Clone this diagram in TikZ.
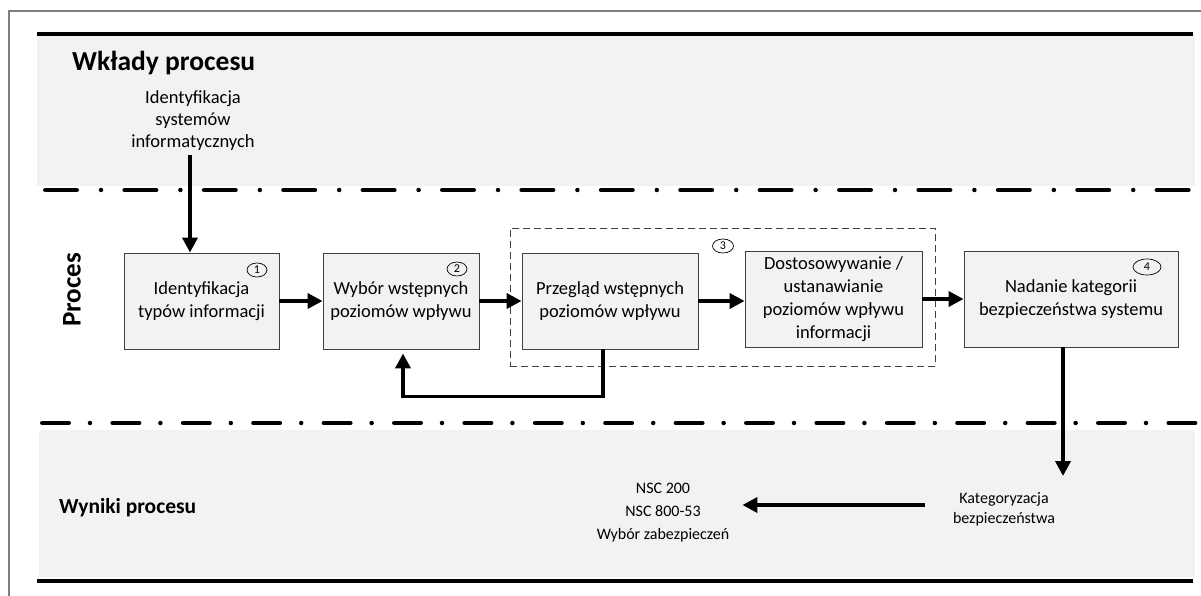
\documentclass[tikz,border=0pt]{standalone}
\usepackage{fontspec}
\setmainfont{Carlito}
\usetikzlibrary{arrows.meta,shapes.geometric}
\definecolor{bandgray}{HTML}{F2F2F2}
\definecolor{boxline}{HTML}{404040}
\definecolor{frame}{HTML}{7F7F7F}
\tikzset{
  stepbox/.style={draw=boxline, fill=bandgray, line width=0.9pt, align=center,
    inner sep=2pt, font=\fontsize{18.5}{23}\selectfont},
  numell/.style={ellipse, draw=black, line width=0.7pt, inner sep=0pt,
    font=\fontsize{12}{12}\selectfont},
  plaintext/.style={align=center, inner sep=0pt, font=\fontsize{18.5}{22}\selectfont},
  heading/.style={anchor=west, inner sep=0pt, font=\bfseries\fontsize{27.5}{30}\selectfont},
  arr/.style={line width=3.6pt, -{Triangle[length=15pt,width=15pt]}},
  solidsep/.style={line width=4.5pt},
  topdd/.style={line width=4.5pt, line cap=round, dash pattern=on 31.5pt off 24.25pt on 0pt off 23.65pt},
  botdd/.style={line width=4.5pt, line cap=round, dash pattern=on 26.5pt off 21.25pt on 0pt off 22.65pt},
}
\begin{document}
\begin{tikzpicture}[x=1pt,y=-1pt]
\useasboundingbox (0,0) rectangle (1201,596);
\clip (0,0) rectangle (1201,596);
% outer frame
\draw[frame, line width=1.5pt] (9,610) -- (9,11) -- (1215,11);
% bands
\fill[bandgray] (37,34) rectangle (1195,186);
\fill[bandgray] (39,430) rectangle (1195,577);
\draw[solidsep] (37,34) -- (1193,34);
\draw[solidsep] (37,581) -- (1193,581);
\draw[topdd] (45.25,190) -- (1199,190);
\draw[botdd] (42.25,423) -- (1199,423);
% headings
\node[heading] (hin) at (72,63) {Wkłady procesu};
\node[heading, font=\bfseries\fontsize{21.5}{24}\selectfont] (hout) at (59,508) {Wyniki procesu};
\node[inner sep=0pt, rotate=90, font=\bfseries\fontsize{27}{29}\selectfont] (hproc) at (72,290) {Proces};
% input text
\node[plaintext] (inp) at (193,121) {Identyfikacja\\systemów\\informatycznych};
% boxes
\node[stepbox, minimum width=155pt, minimum height=96pt] (b1) at (201.5,301) {Identyfikacja\\typów informacji};
\node[stepbox, minimum width=156pt, minimum height=96pt] (b2) at (401,301) {Wybór wstępnych\\poziomów wpływu};
\node[stepbox, minimum width=176pt, minimum height=96pt] (b3) at (610,301) {Przegląd wstępnych\\poziomów wpływu};
\node[stepbox, minimum width=177pt, minimum height=96pt] (b3b) at (833.5,299) {Dostosowywanie /\\ustanawianie\\poziomów wpływu\\informacji};
\node[stepbox, minimum width=214pt, minimum height=96pt] (b4) at (1071,299) {Nadanie kategorii\\bezpieczeństwa systemu};
% group
\node[draw=boxline, dash pattern=on 7pt off 4pt, line width=1pt, minimum width=425pt, minimum height=138pt, inner sep=0pt] (grp) at (722.5,297) {};
% number ellipses
\node[numell, minimum width=20pt, minimum height=14pt] (n1) at (257,270) {1};
\node[numell, minimum width=20pt, minimum height=14pt] (n2) at (457,269) {2};
\node[numell, minimum width=21pt, minimum height=14pt] (n3) at (723,246) {3};
\node[numell, minimum width=28pt, minimum height=16pt] (n4) at (1147,267) {4};
% outputs
\node[plaintext, font=\fontsize{16}{20}\selectfont] (kat) at (1004,509) {Kategoryzacja\\bezpieczeństwa};
\node[plaintext, font=\fontsize{16}{23}\selectfont] (nsc) at (663,513) {NSC 200\\NSC 800-53\\Wybór zabezpieczeń};
% connectors
\draw[arr] ([xshift=-3pt,yshift=-4pt]inp.south) -- ([xshift=-3pt]inp.south |- b1.north);
\draw[arr] (b1.east) -- (b2.west);
\draw[arr] (b2.east) -- (b3.west);
\draw[arr] (b3.east) -- (b3.east -| b3b.west);
\draw[arr] (b3b.east) -- (b4.west);
\draw[arr, shorten >=4pt] ([xshift=-7pt]b3.south) |- ([xshift=2pt,yshift=-47pt]b2.south) -- ([xshift=2pt]b2.south);
\coordinate (kattop) at (1063,476);
\draw[arr] ([xshift=-8pt]b4.south) -- (kattop);
\draw[arr, shorten <=28pt, shorten >=13pt] ([yshift=4pt]kat.west) -- ([yshift=4pt]kat.west -| nsc.east);
\end{tikzpicture}
\end{document}
